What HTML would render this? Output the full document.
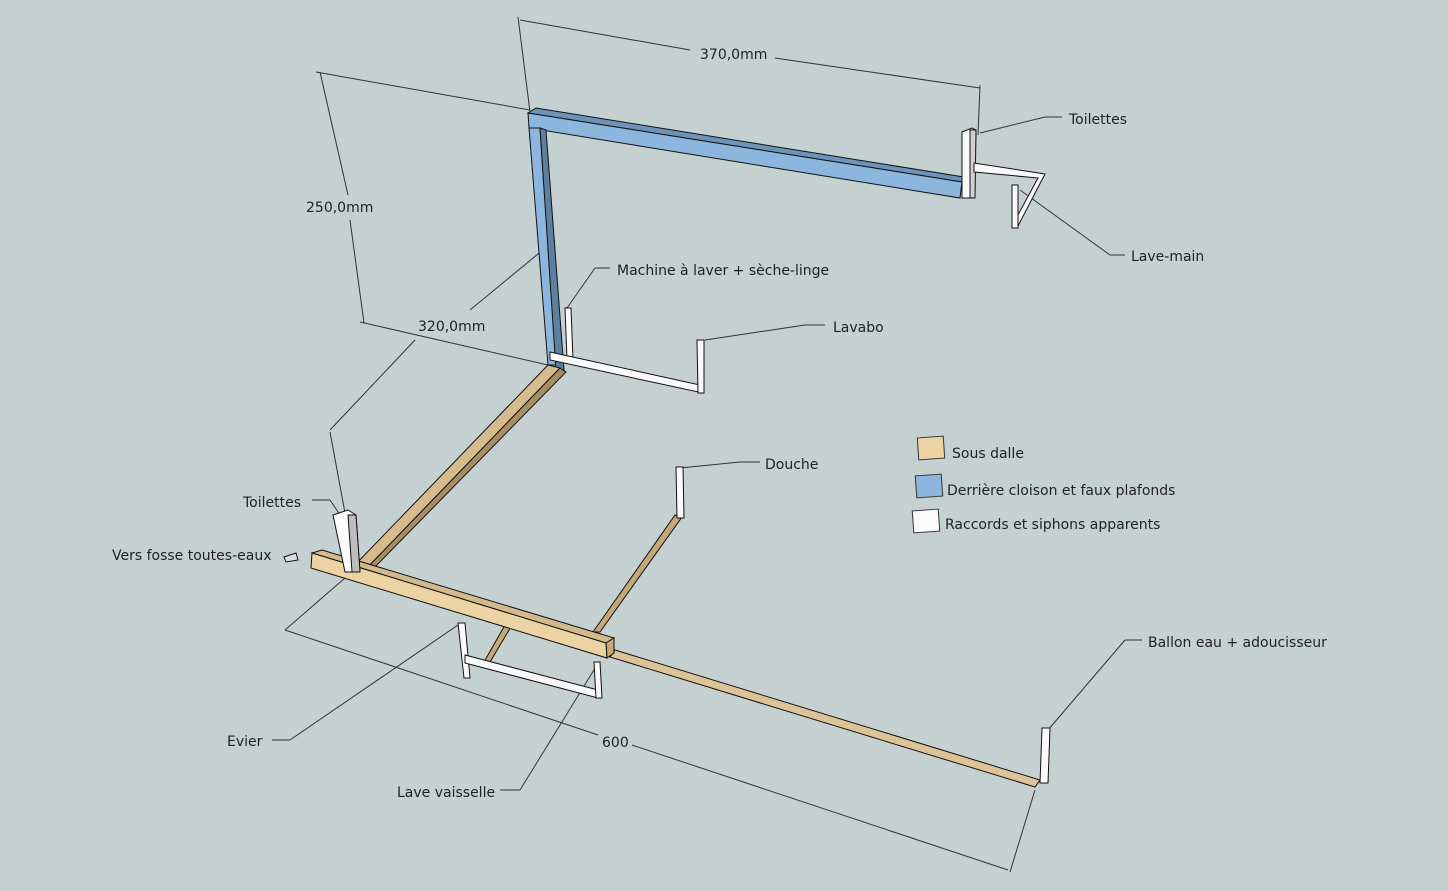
<!DOCTYPE html>
<html><head><meta charset="utf-8"><style>
html,body{margin:0;padding:0;background:#c5d0d1;}
svg{display:block}
text{font-family:"DejaVu Sans","Liberation Sans",sans-serif;font-size:14px;fill:#222}
</style></head><body>
<svg width="1448" height="891" viewBox="0 0 1448 891" xmlns="http://www.w3.org/2000/svg">
<rect width="1448" height="891" fill="#c5d0d1"/>
<g stroke="#333" stroke-width="1" fill="none">
<line x1="518" y1="17" x2="530" y2="112"/>
<line x1="980" y1="85" x2="978" y2="135"/>
<line x1="520" y1="20" x2="690" y2="50"/>
<line x1="775" y1="58" x2="980" y2="88"/>
<line x1="316" y1="72" x2="530" y2="110"/>
<line x1="320" y1="72" x2="348" y2="195"/>
<line x1="350" y1="220" x2="364" y2="323"/>
<line x1="360" y1="322" x2="548" y2="365"/>
<line x1="330" y1="432" x2="350" y2="540"/>
<line x1="330" y1="430" x2="415" y2="340"/>
<line x1="470" y1="310" x2="555" y2="240"/>
<line x1="285" y1="630" x2="360" y2="565"/>
<line x1="1010" y1="872" x2="1035" y2="790"/>
<line x1="285" y1="630" x2="598" y2="735"/>
<line x1="632" y1="745" x2="1008" y2="870"/>
<line x1="980" y1="133" x2="1045" y2="117"/><line x1="1045" y1="117" x2="1062" y2="117"/>
<line x1="1020" y1="190" x2="1110" y2="255"/><line x1="1110" y1="255" x2="1125" y2="255"/>
<line x1="567" y1="308" x2="595" y2="268"/><line x1="595" y1="268" x2="610" y2="268"/>
<line x1="705" y1="340" x2="805" y2="325"/><line x1="805" y1="325" x2="825" y2="325"/>
<line x1="680" y1="468" x2="740" y2="462"/><line x1="740" y1="462" x2="760" y2="462"/>
<line x1="312" y1="500" x2="330" y2="500"/><line x1="330" y1="500" x2="340" y2="515"/>
<line x1="272" y1="740" x2="290" y2="740"/><line x1="290" y1="740" x2="458" y2="625"/>
<line x1="500" y1="790" x2="520" y2="790"/><line x1="520" y1="790" x2="597" y2="665"/>
<line x1="1048" y1="730" x2="1125" y2="640"/><line x1="1125" y1="640" x2="1142" y2="640"/>
</g>
<g stroke="#111" stroke-width="1">
<polygon points="528,113 536,108 970,178 962,182" fill="#6c94bb"/>
<polygon points="528,113 962,182 960,198 529,128" fill="#8cb6dd"/>
<polygon points="529,128 540,128 556,365 548,365" fill="#8cb6dd"/>
<polygon points="540,128 546,130 564,370 556,370" fill="#5f7f9f"/>
</g>
<g stroke="#111" stroke-width="1">
<polygon points="548,365 560,368 365,570 352,568" fill="#d6bc8d"/>
<polygon points="560,368 566,372 372,570 365,570" fill="#a88e64"/>
<polygon points="615,650 1040,780 1035,787 610,657" fill="#dcc497"/>
<polygon points="675,515 682,517 600,632 593,632" fill="#c4a878"/>
<polygon points="505,625 512,625 490,662 484,662" fill="#c4a878"/>
<polygon points="312,553 322,550 614,638 606,643" fill="#d4ba8b"/>
<polygon points="312,553 606,643 607,658 311,568" fill="#ecd3a3"/>
<polygon points="606,643 614,638 614,653 607,658" fill="#c4a878"/>
</g>
<g stroke="#111" stroke-width="1" fill="#fafafa">
<polygon points="962,132 972,128 976,130 974,198 962,198"/>
<polygon points="970,130 976,130 975,198 970,198" fill="#d0d0d0"/>
<polygon points="974,163 1045,174 1018,226 1012,226 1038,178 974,172"/>
<polygon points="1012,185 1018,185 1018,228 1012,228"/>
<polygon points="333,515 348,510 356,515 360,572 345,572"/>
<polygon points="348,515 356,515 360,572 352,572" fill="#bdbdbd"/>
<polygon points="565,308 571,308 573,360 567,360"/>
<polygon points="550,352 700,385 703,393 550,360"/>
<polygon points="697,340 704,340 704,393 698,393"/>
<polygon points="676,467 683,467 684,518 677,518"/>
<polygon points="458,623 465,623 470,678 464,678"/>
<polygon points="465,655 598,690 598,698 465,663"/>
<polygon points="594,662 600,662 602,698 596,698"/>
<polygon points="1042,728 1050,728 1048,783 1040,783"/>
<polygon points="284,557 296,553 298,560 286,562" fill="#ddd"/>
</g>
<g stroke="#333" stroke-width="1">
<rect x="918" y="437" width="26" height="22" fill="#ecd3a3" transform="rotate(-4 931 448)"/>
<rect x="916" y="475" width="26" height="22" fill="#8cb6dd" transform="rotate(-4 929 486)"/>
<rect x="913" y="510" width="26" height="22" fill="#fafafa" transform="rotate(-4 926 521)"/>
</g>
<text x="952" y="458">Sous dalle</text>
<text x="947" y="495">Derrière cloison et faux plafonds</text>
<text x="945" y="529">Raccords et siphons apparents</text>
<text x="700" y="59">370,0mm</text>
<text x="306" y="212">250,0mm</text>
<text x="418" y="331">320,0mm</text>
<text x="602" y="747">600</text>
<text x="1069" y="124">Toilettes</text>
<text x="1131" y="261">Lave-main</text>
<text x="617" y="275">Machine à laver + sèche-linge</text>
<text x="833" y="332">Lavabo</text>
<text x="765" y="469">Douche</text>
<text x="243" y="507">Toilettes</text>
<text x="112" y="560">Vers fosse toutes-eaux</text>
<text x="227" y="746">Evier</text>
<text x="397" y="797">Lave vaisselle</text>
<text x="1148" y="647">Ballon eau + adoucisseur</text>
</svg>
</body></html>
